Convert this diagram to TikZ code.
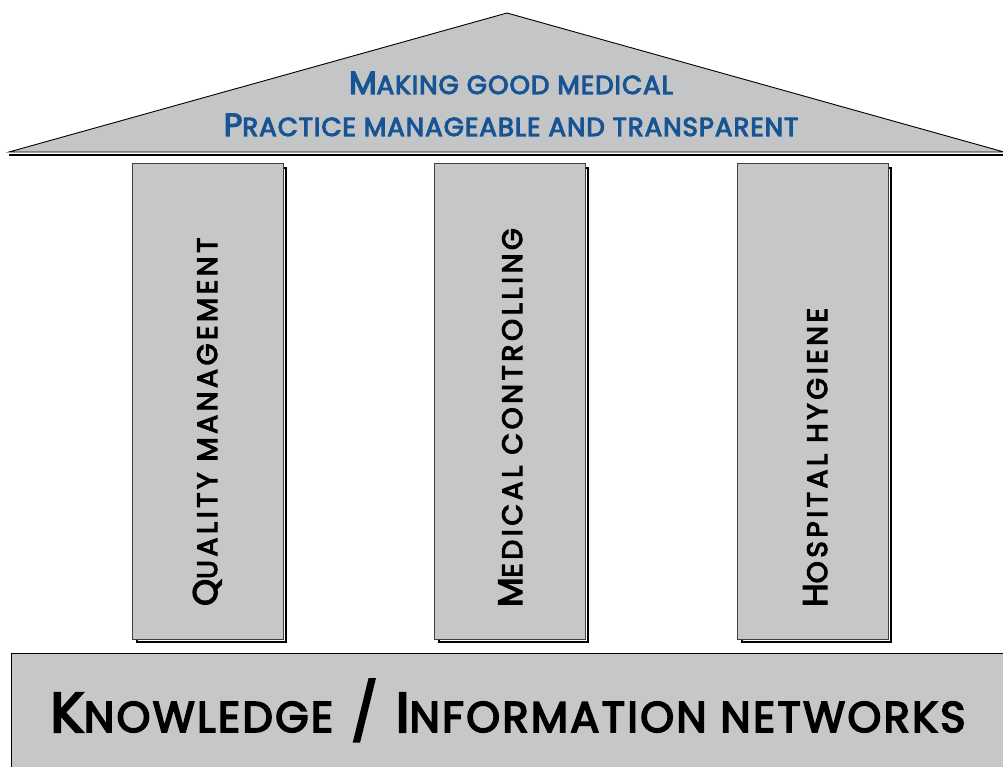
\documentclass[tikz,border=0pt]{standalone}
\usepackage{fontspec}
\setmainfont{Poppins}[FakeBold=4]
\definecolor{pgray}{RGB}{198,199,201}
\definecolor{rgray}{RGB}{196,197,199}
\definecolor{tblue}{RGB}{22,84,148}
\newcommand\SC[2]{{\fontsize{#1}{#1}\selectfont #2}}
\begin{document}
\begin{tikzpicture}[x=1pt,y=-1pt,
  roofshape/.style={fill=rgray,draw=black,line width=0.9pt,line join=miter},
  pillarbox/.style={draw=black!75,line width=0.8pt,fill=pgray,minimum width=151pt,minimum height=476pt,inner sep=0pt},
  shadowbox/.style={draw=black,line width=2.4pt,fill=white,minimum width=149pt,minimum height=474pt,inner sep=0pt},
  pillartext/.style={rotate=90,anchor=base west,inner sep=0pt,font=\fontsize{34}{34}\selectfont\addfontfeatures{LetterSpace=13}},
  rooftext/.style={align=center,text=tblue,inner sep=0pt,font=\fontsize{32}{42}\selectfont\addfontfeatures{LetterSpace=4}},
  basetext/.style={anchor=base,inner sep=0pt,font=\fontsize{56}{56}\selectfont\addfontfeatures{LetterSpace=5.5}}]
\useasboundingbox (0,0) rectangle (1003,766);
% roof
\coordinate (rl) at (9,152);
\coordinate (ra) at (507,13);
\coordinate (rr) at (1004,152);
\draw[roofshape] (rl) -- (ra) -- (rr) -- cycle;
\coordinate (bl) at (9,155);
\coordinate (br) at (1004,155);
\draw[line width=2.6pt] (bl) -- (br);
\node[rooftext] (rt) at (511,104) {M\SC{26}{AKING GOOD MEDICAL}\\P\SC{26}{RACTICE MANAGEABLE AND TRANSPARENT}};
% pillars
\node[shadowbox] (s1) at (211.5,405) {};
\node[pillarbox] (p1) at (207.5,401) {};
\node[shadowbox] (s2) at (513.5,405) {};
\node[pillarbox] (p2) at (510,401) {};
\node[shadowbox] (s3) at (816.5,405) {};
\node[pillarbox] (p3) at (812.5,401) {};
\node[pillartext] (t1) at (217,606) {Q\SC{28}{UALITY MANAGEMENT}};
\node[pillartext] (t2) at (522,607) {M\SC{28}{EDICAL CONTROLLING}};
\node[pillartext] (t3) at (827,607) {H\SC{28}{OSPITAL HYGIENE}};
% base
\draw[fill=pgray,draw=black,line width=0.9pt] (11,653) rectangle (1012,775);
\node[basetext] (bt) at (508,732) {K\SC{43}{NOWLEDGE} / I\SC{43}{NFORMATION NETWORKS}};
\end{tikzpicture}
\end{document}
